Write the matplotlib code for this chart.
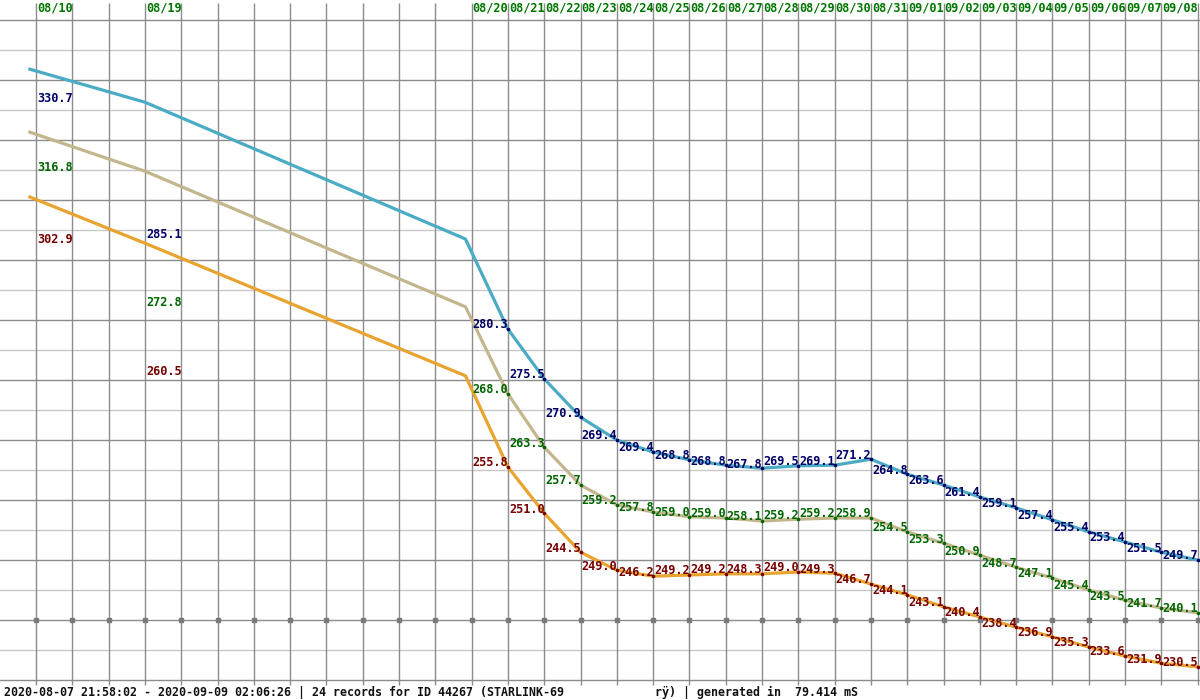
import matplotlib.pyplot as plt

# day columns used for the date header and the value labels
dates = ["08/10", "08/19", "08/20", "08/21", "08/22", "08/23", "08/24", "08/25",
         "08/26", "08/27", "08/28", "08/29", "08/30", "08/31", "09/01", "09/02",
         "09/03", "09/04", "09/05", "09/06", "09/07", "09/08"]
day_cols = [0, 3] + list(range(12, 32))

# x position of each curve point (one more point than labels: the curve starts earlier)
point_cols = [-0.17, 3, 11.83] + list(range(13, 33))

# values printed on the chart (km)
apogee = [330.7, 285.1, 280.3, 275.5, 270.9, 269.4, 269.4, 268.8, 268.8, 267.8, 269.5,
          269.1, 271.2, 264.8, 263.6, 261.4, 259.1, 257.4, 255.4, 253.4, 251.5, 249.7]
mean_alt = [316.8, 272.8, 268.0, 263.3, 257.7, 259.2, 257.8, 259.0, 259.0, 258.1, 259.2,
            259.2, 258.9, 254.5, 253.3, 250.9, 248.7, 247.1, 245.4, 243.5, 241.7, 240.1]
perigee = [302.9, 260.5, 255.8, 251.0, 244.5, 249.0, 246.2, 249.2, 249.2, 248.3, 249.0,
           249.3, 246.7, 244.1, 243.1, 240.4, 238.4, 236.9, 235.3, 233.6, 231.9, 230.5]

# height of the drawn curves (5 km per row)
apogee_curve = [331.8, 326.3, 303.5, 288.5, 280.2, 273.8, 270.0, 268.0, 266.7, 265.8, 265.3,
                265.7, 265.8, 266.8, 264.3, 262.5, 260.5, 258.7, 256.7, 254.7, 253.0, 251.3, 250.0]
mean_curve = [321.3, 314.8, 292.2, 277.7, 268.8, 262.5, 259.2, 258.0, 257.2, 257.0, 256.5,
              256.8, 257.0, 257.0, 254.7, 252.8, 250.8, 248.8, 247.0, 245.0, 243.3, 242.0, 241.2]
perigee_curve = [310.5, 302.8, 280.7, 265.5, 257.8, 251.3, 248.3, 247.3, 247.5, 247.7, 247.7,
                 248.0, 247.8, 246.0, 244.2, 242.2, 240.5, 238.8, 237.2, 235.5, 234.0, 232.8, 232.2]

mono = "DejaVu Sans Mono"

fig = plt.figure(figsize=(12, 7), dpi=100)
ax = fig.add_axes([0, 0, 1, 1])
ax.set_xlim(-0.992, 32.066)
ax.set_ylim(226.667, 343.333)
ax.axis("off")

# grid
for v in range(230, 341, 5):
    if v % 10 == 0:
        ax.axhline(v, color="#8c8c8c", lw=1.0, zorder=1)
    else:
        ax.axhline(v, color="#c8c8c8", lw=1.0, zorder=1)
ax.vlines(range(33), 229.2, 342.8, color="#8c8c8c", lw=1.0, zorder=1)
ax.plot(range(33), [240] * 33, "s", color="#7a7a7a", ms=2.2, zorder=2)

series = [
    (apogee, apogee_curve, "#4aacc4", "#000066"),
    (mean_alt, mean_curve, "#c4b68c", "#006600"),
    (perigee, perigee_curve, "#e8a42e", "#770000"),
]
for vals, curve, line_col, text_col in series:
    ax.plot(point_cols, curve, color=line_col, lw=2.3, zorder=3, solid_joinstyle="round")
    ax.plot(point_cols[3:], curve[3:], "o", color=text_col, ms=1.6, zorder=4)
    for i, v in enumerate(vals):
        ax.annotate(f"{v:.1f}", (day_cols[i], curve[i + 1]), xytext=(0.8, 3),
                    textcoords="offset points", ha="left", va="center",
                    fontfamily=mono, fontweight="bold", fontsize=8.6,
                    color=text_col, zorder=5)

# date header
for c, d in zip(day_cols, dates):
    ax.annotate(d, (c, 342.0), xytext=(0.8, 0), textcoords="offset points",
                ha="left", va="center", fontfamily=mono, fontweight="bold",
                fontsize=8.6, color="#007700")

footer = ("2020-08-07 21:58:02 - 2020-09-09 02:06:26 | 24 records for ID 44267 (STARLINK-69"
          + " " * 13 + "rÿ) | generated in  79.414 mS")
fig.text(4 / 1200, 1 - 692 / 700, footer, ha="left", va="center",
         fontfamily=mono, fontweight="bold", fontsize=8.4, color="#111111")

fig.savefig("out.png", dpi=100, facecolor="white")
